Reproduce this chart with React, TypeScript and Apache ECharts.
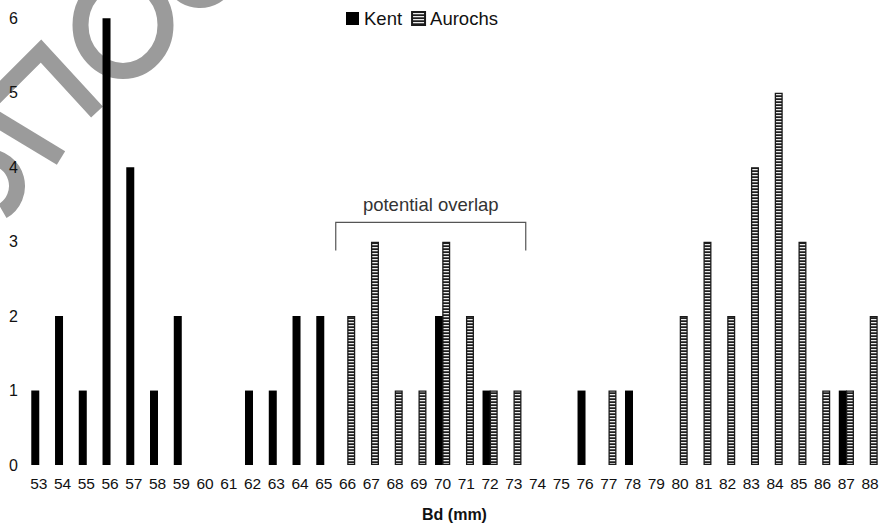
import React, { useEffect, useRef } from 'react';
import * as echarts from 'echarts';

// Bd measurement bins (mm)
const categories = [
  '53', '54', '55', '56', '57', '58', '59', '60', '61', '62', '63', '64',
  '65', '66', '67', '68', '69', '70', '71', '72', '73', '74', '75', '76',
  '77', '78', '79', '80', '81', '82', '83', '84', '85', '86', '87', '88',
];

// Specimen counts per bin
const kentCounts = [
  1, 2, 1, 6, 4, 1, 2, 0, 0, 1, 1, 2, 2,
  0, 0, 0, 0, 2, 0, 1, 0, 0, 0, 1, 0, 1,
  0, 0, 0, 0, 0, 0, 0, 0, 1, 0,
];
const aurochsCounts = [
  0, 0, 0, 0, 0, 0, 0, 0, 0, 0, 0, 0, 0,
  2, 3, 1, 1, 3, 2, 1, 1, 0, 0, 0, 1, 0,
  0, 2, 3, 2, 4, 5, 3, 1, 1, 2,
];

const yTicks = [0, 1, 2, 3, 4, 5, 6];

// Bins covered by the "potential overlap" bracket
const overlapFrom = '66';
const overlapTo = '73';
const overlapLabel = 'potential overlap';

const FONT = '"Liberation Sans", Arial, Helvetica, sans-serif';
const INK = '#111';

function stripePattern(): HTMLCanvasElement {
  const c = document.createElement('canvas');
  c.width = 4;
  c.height = 3;
  const ctx = c.getContext('2d')!;
  ctx.fillStyle = '#1e1e1e';
  ctx.fillRect(0, 0, 4, 1);
  ctx.fillStyle = '#ececec';
  ctx.fillRect(0, 1, 4, 1);
  ctx.fillStyle = '#555';
  ctx.fillRect(0, 2, 4, 1);
  return c;
}

// Grey decorative strokes in the upper-left corner
function decoration(): any[] {
  const stroke = '#9b9b9b';
  const base = { z: -10, silent: true };
  return [
    {
      ...base,
      type: 'ellipse',
      shape: { cx: 123, cy: 25, rx: 42.5, ry: 46 },
      style: { fill: 'none', stroke, lineWidth: 16 },
    },
    {
      ...base,
      type: 'polyline',
      shape: { points: [[-12, 104], [41, 51], [97, 112]] },
      style: { fill: 'none', stroke, lineWidth: 16, lineJoin: 'miter', lineCap: 'butt' },
    },
    {
      ...base,
      type: 'line',
      shape: { x1: -10, y1: 115, x2: 61, y2: 158 },
      style: { stroke, lineWidth: 16, lineCap: 'butt' },
    },
    {
      ...base,
      type: 'arc',
      shape: { cx: -12, cy: 186, r: 29, startAngle: -Math.PI / 2, endAngle: Math.PI / 3, clockwise: true },
      style: { fill: 'none', stroke, lineWidth: 16, lineCap: 'butt' },
    },
    {
      ...base,
      type: 'circle',
      shape: { cx: 200, cy: -30, r: 30 },
      style: { fill: 'none', stroke, lineWidth: 16 },
    },
  ];
}

export default function App() {
  const ref = useRef<HTMLDivElement>(null);

  useEffect(() => {
    if (!ref.current) return;
    const chart = echarts.init(ref.current, undefined, { renderer: 'svg' });
    const toBar = (v: number) => (v === 0 ? '-' : v);

    chart.setOption({
      animation: false,
      backgroundColor: '#fff',
      textStyle: { fontFamily: FONT, color: INK },
      grid: { left: 27, right: -3, top: 18.3, bottom: 60.3 },
      legend: {
        data: ['Kent', 'Aurochs'],
        left: 346,
        top: 9,
        padding: 0,
        icon: 'rect',
        itemWidth: 13,
        itemHeight: 13,
        itemGap: 9,
        textStyle: { fontFamily: FONT, fontSize: 18.5, color: INK },
      },
      xAxis: {
        type: 'category',
        data: categories,
        axisLine: { show: false },
        axisTick: { show: false },
        splitLine: { show: false },
        axisLabel: { interval: 0, fontSize: 15.5, margin: 10, color: INK, fontFamily: FONT },
        name: 'Bd (mm)',
        nameLocation: 'middle',
        nameGap: 41,
        nameTextStyle: { fontSize: 16, fontWeight: 'bold', color: INK, fontFamily: FONT },
      },
      yAxis: {
        type: 'value',
        min: yTicks[0],
        max: yTicks[yTicks.length - 1],
        interval: 1,
        axisLine: { show: false },
        axisTick: { show: false },
        splitLine: { show: false },
        axisLabel: { fontSize: 16, margin: 9, color: INK, fontFamily: FONT },
      },
      series: [
        {
          name: 'Kent',
          type: 'bar',
          barWidth: 8,
          barGap: '-10%',
          data: kentCounts.map(toBar),
          itemStyle: { color: '#000' },
        },
        {
          name: 'Aurochs',
          type: 'bar',
          barWidth: 8,
          data: aurochsCounts.map(toBar),
          itemStyle: {
            color: { image: stripePattern(), repeat: 'repeat' },
            borderColor: '#1a1a1a',
            borderWidth: 1.3,
          },
        },
      ],
    });

    // Bracket spanning the overlap bins, placed through the axes
    const i0 = categories.indexOf(overlapFrom);
    const i1 = categories.indexOf(overlapTo);
    const px = (i: number) => chart.convertToPixel({ xAxisIndex: 0 }, i) as number;
    const py = (v: number) => chart.convertToPixel({ yAxisIndex: 0 }, v) as number;
    const xL = (px(i0 - 1) + px(i0)) / 2;
    const xR = (px(i1) + px(i1 + 1)) / 2;
    const yTop = py(3.26);
    const yLeg = py(2.88);
    const yText = py(3.5);

    chart.setOption({
      graphic: [
        ...decoration(),
        {
          type: 'polyline',
          silent: true,
          shape: { points: [[xL, yLeg], [xL, yTop], [xR, yTop], [xR, yLeg]] },
          style: { fill: 'none', stroke: '#555', lineWidth: 1.2 },
        },
        {
          type: 'text',
          silent: true,
          x: (xL + xR) / 2,
          y: yText,
          style: {
            text: overlapLabel,
            fontFamily: FONT,
            fontSize: 18.5,
            fill: '#333',
            align: 'center',
            verticalAlign: 'middle',
          },
        },
      ],
    });

    return () => chart.dispose();
  }, []);

  return (
    <div
      ref={ref}
      style={{ position: 'fixed', left: 0, top: 0, width: 882, height: 527, background: '#fff' }}
    />
  );
}
